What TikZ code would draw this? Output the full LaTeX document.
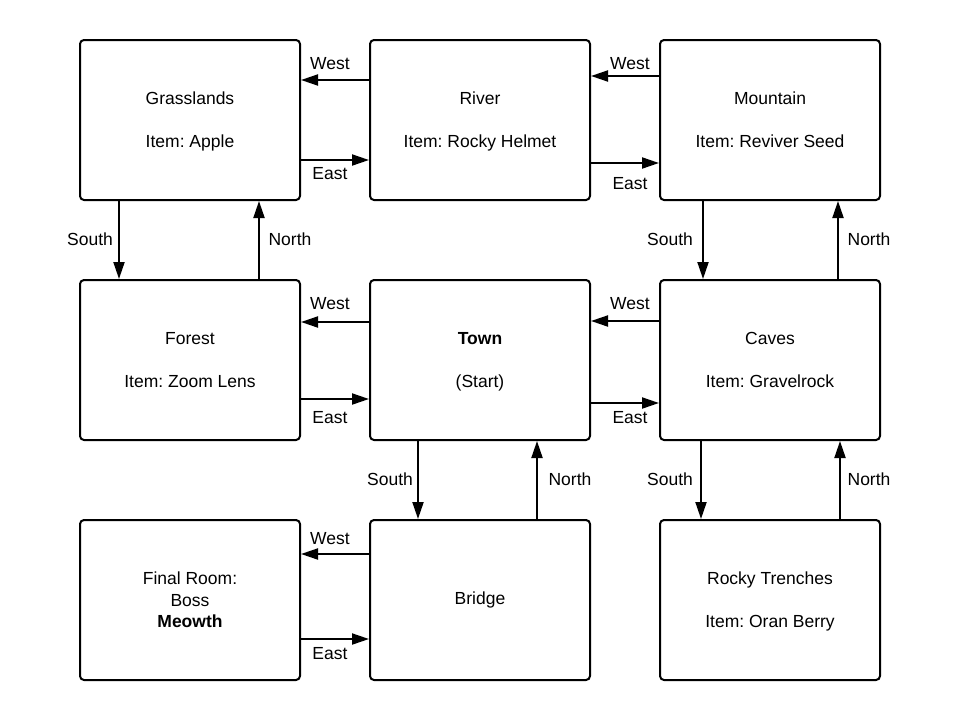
\documentclass[tikz,border=0pt]{standalone}
\usepackage{fontspec}
\setmainfont{Liberation Sans}
\usetikzlibrary{arrows.meta}
\frenchspacing
\newcommand\tworoom[2]{\rule{0pt}{16.5pt}#1\\[21.5pt]#2\rule[-5pt]{0pt}{5pt}}
\begin{document}
\frenchspacing
\begin{tikzpicture}[x=1pt,y=-1pt,
  room/.style={draw=black,line width=2pt,rounded corners=4pt,minimum width=220pt,minimum height=160pt,align=center,inner sep=0pt,font=\fontsize{17.5}{21.5}\selectfont\frenchspacing},
  arr/.style={line width=2pt,-{Triangle[length=17pt,width=11pt]}},
  lbl/.style={font=\fontsize{17.5}{21}\selectfont,inner sep=0pt}]
\useasboundingbox (0,0) rectangle (960,720);
\fill[white] (0,0) rectangle (960,720);
% rooms
\node[room] (gr) at (190,120) {\tworoom{Grasslands}{Item: Apple}};
\node[room] (ri) at (480,120) {\tworoom{River}{Item: Rocky Helmet}};
\node[room] (mo) at (770,120) {\tworoom{Mountain}{Item: Reviver Seed}};
\node[room] (fo) at (190,360) {\tworoom{Forest}{Item: Zoom Lens}};
\node[room] (to) at (480,360) {\tworoom{\textbf{Town}}{(Start)}};
\node[room] (ca) at (770,360) {\tworoom{Caves}{Item: Gravelrock}};
\node[room] (fi) at (190,600) {Final Room:\\Boss\\\textbf{Meowth}};
\node[room] (br) at (480,600) {Bridge};
\node[room] (rt) at (770,600) {\tworoom{Rocky Trenches}{Item: Oran Berry}};
% horizontal connectors
\draw[arr] ([yshift=40pt]ri.west) -- ([yshift=40pt]ri.west -| gr.east);
\draw[arr] ([yshift=-40pt]gr.east) -- ([yshift=-40pt]gr.east -| ri.west);
\draw[arr] ([yshift=44pt]mo.west) -- ([yshift=44pt]mo.west -| ri.east);
\draw[arr] ([yshift=-43pt]ri.east) -- ([yshift=-43pt]ri.east -| mo.west);
\draw[arr] ([yshift=38pt]to.west) -- ([yshift=38pt]to.west -| fo.east);
\draw[arr] ([yshift=-39pt]fo.east) -- ([yshift=-39pt]fo.east -| to.west);
\draw[arr] ([yshift=39pt]ca.west) -- ([yshift=39pt]ca.west -| to.east);
\draw[arr] ([yshift=-43pt]to.east) -- ([yshift=-43pt]to.east -| ca.west);
\draw[arr] ([yshift=46pt]br.west) -- ([yshift=46pt]br.west -| fi.east);
\draw[arr] ([yshift=-39pt]fi.east) -- ([yshift=-39pt]fi.east -| br.west);
% vertical connectors
\draw[arr] ([xshift=-71pt]gr.south) -- ([xshift=-71pt]gr.south |- fo.north);
\draw[arr] ([xshift=69pt]fo.north) -- ([xshift=69pt]fo.north |- gr.south);
\draw[arr] ([xshift=-67pt]mo.south) -- ([xshift=-67pt]mo.south |- ca.north);
\draw[arr] ([xshift=68pt]ca.north) -- ([xshift=68pt]ca.north |- mo.south);
\draw[arr] ([xshift=-62pt]to.south) -- ([xshift=-62pt]to.south |- br.north);
\draw[arr] ([xshift=57pt]br.north) -- ([xshift=57pt]br.north |- to.south);
\draw[arr] ([xshift=-69pt]ca.south) -- ([xshift=-69pt]ca.south |- rt.north);
\draw[arr] ([xshift=70pt]rt.north) -- ([xshift=70pt]rt.north |- ca.south);
% labels
\node[lbl] (l1) at (330,64) {West};
\node[lbl] (l2) at (330,174) {East};
\node[lbl] (l3) at (630,64) {West};
\node[lbl] (l4) at (630,184) {East};
\node[lbl] (l5) at (90,239) {South};
\node[lbl] (l6) at (290,239) {North};
\node[lbl] (l7) at (670,239) {South};
\node[lbl] (l8) at (869,239) {North};
\node[lbl] (l9) at (330,304) {West};
\node[lbl] (l10) at (330,418) {East};
\node[lbl] (l11) at (630,304) {West};
\node[lbl] (l12) at (630,418) {East};
\node[lbl] (l13) at (390,479) {South};
\node[lbl] (l14) at (570,479) {North};
\node[lbl] (l15) at (670,479) {South};
\node[lbl] (l16) at (869,479) {North};
\node[lbl] (l17) at (330,539) {West};
\node[lbl] (l18) at (330,654) {East};
\end{tikzpicture}
\end{document}
